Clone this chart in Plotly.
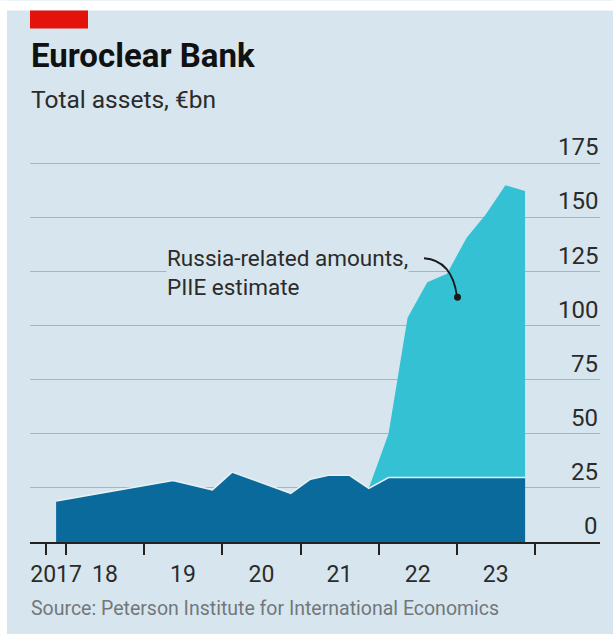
import plotly.graph_objects as go

# ---- data ----
base_dates = ["2017-11-15", "2019-05-15", "2019-11-15", "2020-02-15", "2020-11-15",
              "2021-02-15", "2021-05-15", "2021-08-15", "2021-11-15", "2022-02-15", "2023-11-15"]
base_values = [19.0, 28.4, 24.1, 32.3, 22.5, 29.0, 30.9, 30.9, 24.8, 29.8, 29.8]

total_dates = ["2021-11-15", "2022-02-15", "2022-05-15", "2022-08-15", "2022-11-15",
               "2023-02-15", "2023-05-15", "2023-08-15", "2023-11-15"]
total_values = [24.8, 50.0, 103.6, 120.0, 124.0, 140.6, 151.4, 164.9, 162.2]

x_label_pos = ["2017-11-15", "2018-07-01", "2019-07-01", "2020-07-01", "2021-07-01",
               "2022-07-01", "2023-07-01"]
x_labels = ["2017", "18", "19", "20", "21", "22", "23"]
x_boundaries = ["2017-10-01", "2018-01-01", "2019-01-01", "2020-01-01", "2021-01-01",
                "2022-01-01", "2023-01-01", "2024-01-01"]
y_ticks = [0, 25, 50, 75, 100, 125, 150, 175]

# ---- style ----
BG = "#d7e6ee"
DARK = "#0b6a9c"
LIGHT = "#34c1d4"
GRID = "#a6b5be"
TEXT = "#2b2b2b"
FONT = "Roboto"

W, H = 613, 634
PX_PER_UNIT = 379 / 175
L, R, B = 30, 600, 542
YMAX = 177
T = B - YMAX * PX_PER_UNIT  # plot top in pixels


def px(x):
    return (x - L) / (R - L)


def py(y):
    return (B - y) / (B - T)


fig = go.Figure()
fig.add_trace(go.Scatter(x=total_dates, y=total_values, mode="lines", fill="tozeroy",
                         fillcolor=LIGHT, line=dict(width=0, color=LIGHT),
                         hoverinfo="skip", showlegend=False))
fig.add_trace(go.Scatter(x=base_dates, y=base_values, mode="lines", fill="tozeroy",
                         fillcolor=DARK, line=dict(width=1.5, color="#e8f1f5"),
                         hoverinfo="skip", showlegend=False))

annotations = []
# y tick labels above gridlines, right aligned
for v in y_ticks:
    annotations.append(dict(x=1, xref="paper", y=v, yref="y", text=str(v), showarrow=False,
                            xanchor="right", yanchor="bottom", yshift=0,
                            font=dict(family=FONT, size=24, color=TEXT)))

# titles
annotations.append(dict(x=px(29), y=py(55), xref="paper", yref="paper", text="<b>Euroclear Bank</b>",
                        showarrow=False, xanchor="left", yanchor="middle",
                        font=dict(family=FONT, size=33, color="#111111")))
annotations.append(dict(x=px(29), y=py(99), xref="paper", yref="paper", text="Total assets, €bn",
                        showarrow=False, xanchor="left", yanchor="middle",
                        font=dict(family=FONT, size=24.5, color=TEXT)))
annotations.append(dict(x=px(29), y=py(609), xref="paper", yref="paper",
                        text="Source: Peterson Institute for International Economics",
                        showarrow=False, xanchor="left", yanchor="middle",
                        font=dict(family=FONT, size=19.5, color="#72777b")))
# callout
annotations.append(dict(x=px(166), y=py(272), xref="paper", yref="paper",
                        text="Russia-related amounts,<br>PIIE estimate",
                        showarrow=False, xanchor="left", yanchor="middle", align="left",
                        bgcolor=BG, borderpad=0,
                        font=dict(family=FONT, size=22.5, color=TEXT)))

shapes = [
    # white frame top and left
    dict(type="rect", xref="paper", yref="paper", x0=px(0), x1=px(W), y0=py(0), y1=py(10),
         fillcolor="white", line=dict(width=0), layer="below"),
    dict(type="rect", xref="paper", yref="paper", x0=px(0), x1=px(7), y0=py(0), y1=py(H),
         fillcolor="white", line=dict(width=0), layer="below"),
    # red tag
    dict(type="rect", xref="paper", yref="paper", x0=px(30), x1=px(88), y0=py(10), y1=py(28),
         fillcolor="#e3120b", line=dict(width=0)),
    # callout connector
    dict(type="path", xref="paper", yref="paper",
         path=f"M {px(424)} {py(258)} Q {px(452)} {py(260)} {px(457)} {py(296)}",
         line=dict(color="#1a1a1a", width=1.8)),
    dict(type="circle", xref="paper", yref="paper", x0=px(454), x1=px(461), y0=py(293.5), y1=py(300.5),
         fillcolor="#1a1a1a", line=dict(width=0)),
]

fig.update_layout(
    width=W, height=H,
    margin=dict(l=L, r=W - R, t=T, b=H - B, pad=0),
    paper_bgcolor=BG, plot_bgcolor=BG,
    annotations=annotations, shapes=shapes,
    xaxis=dict(type="date", range=["2017-07-16", "2024-10-30"],
               tickmode="array", tickvals=x_label_pos, ticktext=x_labels,
               ticks="outside", ticklen=10, tickcolor="rgba(0,0,0,0)",
               tickfont=dict(family=FONT, size=23, color=TEXT),
               showgrid=False, zeroline=False,
               showline=True, linecolor="#222222", linewidth=2,
               minor=dict(tickmode="array", tickvals=x_boundaries, ticks="outside",
                          ticklen=11, tickwidth=2, tickcolor="#222222", showgrid=False),
               fixedrange=True),
    yaxis=dict(range=[0, YMAX], tickmode="array", tickvals=y_ticks, showticklabels=False,
               showgrid=True, gridcolor=GRID, gridwidth=1.3, zeroline=False,
               fixedrange=True),
)

fig.write_html("out.html")
